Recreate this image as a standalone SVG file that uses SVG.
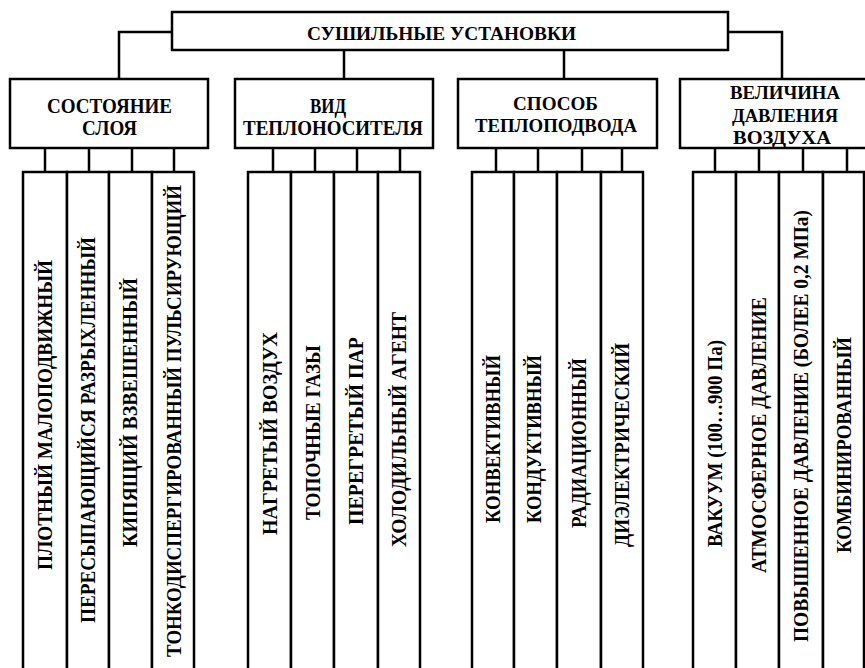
<svg xmlns="http://www.w3.org/2000/svg" width="865" height="668" viewBox="0 0 865 668">
<style>
.b{fill:#fff;stroke:#000;stroke-width:2.5}
.c{fill:none;stroke:#000;stroke-width:2.5}
text{font-family:"Liberation Serif","Times New Roman",serif;font-weight:bold;fill:#000;text-anchor:middle}
.t{font-size:19.5px}
.h{font-size:20px}
.h3{font-size:19.5px}
.h4{font-size:18.5px}
.v{font-size:22px}
</style>
<rect width="865" height="668" fill="#fff"/>
<g id="connectors">
<path class="c" d="M172,32H119V79M728,32H782V79M344,50V79M564,50V79"/>
<path class="c" d="M45,148V172M89,148V172M132,148V172M174,148V172"/>
<path class="c" d="M273,148V172M315,148V172M357,148V172M400,148V172"/>
<path class="c" d="M496,148V172M538,148V172M582,148V172M622,148V172"/>
<path class="c" d="M715,148V172M759,148V172M803,148V172M847,148V172"/>
</g>
<g id="root"><rect class="b" x="172" y="12" width="556" height="38"/><text class="t" x="441.5" y="40" textLength="269" lengthAdjust="spacingAndGlyphs">СУШИЛЬНЫЕ  УСТАНОВКИ</text></g>
<g id="cat1"><rect class="b" x="10" y="79" width="198" height="69"/><text class="h" x="109.5" y="113" textLength="125" lengthAdjust="spacingAndGlyphs">СОСТОЯНИЕ</text><text class="h" x="109.5" y="135" textLength="55" lengthAdjust="spacingAndGlyphs">СЛОЯ</text></g>
<g id="cat2"><rect class="b" x="235" y="79" width="198" height="69"/><text class="h" x="328" y="113" textLength="36" lengthAdjust="spacingAndGlyphs">ВИД</text><text class="h" x="333" y="135" textLength="180" lengthAdjust="spacingAndGlyphs">ТЕПЛОНОСИТЕЛЯ</text></g>
<g id="cat3"><rect class="b" x="458" y="79" width="199" height="69"/><text class="h3" x="555.5" y="110" textLength="85" lengthAdjust="spacingAndGlyphs">СПОСОБ</text><text class="h3" x="556" y="132" textLength="162" lengthAdjust="spacingAndGlyphs">ТЕПЛОПОДВОДА</text></g>
<g id="cat4"><rect class="b" x="680" y="79" width="200" height="69"/><text class="h4" x="785" y="99" textLength="110" lengthAdjust="spacingAndGlyphs">ВЕЛИЧИНА</text><text class="h4" x="785" y="122" textLength="106" lengthAdjust="spacingAndGlyphs">ДАВЛЕНИЯ</text><text class="h4" x="782" y="144" textLength="98" lengthAdjust="spacingAndGlyphs">ВОЗДУХА</text></g>
<g id="l1"><rect class="b" x="23" y="172" width="44" height="520"/><text class="v" transform="translate(52,415) rotate(-90)" textLength="310" lengthAdjust="spacingAndGlyphs">ПЛОТНЫЙ  МАЛОПОДВИЖНЫЙ</text></g>
<g id="l2"><rect class="b" x="67" y="172" width="42" height="520"/><text class="v" transform="translate(95,430) rotate(-90)" textLength="386" lengthAdjust="spacingAndGlyphs">ПЕРЕСЫПАЮЩИЙСЯ  РАЗРЫХЛЕННЫЙ</text></g>
<g id="l3"><rect class="b" x="109" y="172" width="43" height="520"/><text class="v" transform="translate(137,412.5) rotate(-90)" textLength="269" lengthAdjust="spacingAndGlyphs">КИПЯЩИЙ  ВЗВЕШЕННЫЙ</text></g>
<g id="l4"><rect class="b" x="152" y="172" width="42" height="520"/><text class="v" transform="translate(181,421) rotate(-90)" textLength="472" lengthAdjust="spacingAndGlyphs">ТОНКОДИСПЕРГИРОВАННЫЙ  ПУЛЬСИРУЮЩИЙ</text></g>
<g id="l5"><rect class="b" x="248" y="172" width="43" height="520"/><text class="v" transform="translate(277,433.5) rotate(-90)" textLength="203" lengthAdjust="spacingAndGlyphs">НАГРЕТЫЙ  ВОЗДУХ</text></g>
<g id="l6"><rect class="b" x="291" y="172" width="43" height="520"/><text class="v" transform="translate(320,432.5) rotate(-90)" textLength="175" lengthAdjust="spacingAndGlyphs">ТОПОЧНЫЕ  ГАЗЫ</text></g>
<g id="l7"><rect class="b" x="334" y="172" width="44" height="520"/><text class="v" transform="translate(363,431) rotate(-90)" textLength="188" lengthAdjust="spacingAndGlyphs">ПЕРЕГРЕТЫЙ  ПАР</text></g>
<g id="l8"><rect class="b" x="378" y="172" width="42" height="520"/><text class="v" transform="translate(406,429.5) rotate(-90)" textLength="235" lengthAdjust="spacingAndGlyphs">ХОЛОДИЛЬНЫЙ  АГЕНТ</text></g>
<g id="l9"><rect class="b" x="472" y="172" width="42" height="520"/><text class="v" transform="translate(500,439) rotate(-90)" textLength="168" lengthAdjust="spacingAndGlyphs">КОНВЕКТИВНЫЙ</text></g>
<g id="l10"><rect class="b" x="514" y="172" width="43" height="520"/><text class="v" transform="translate(541,439) rotate(-90)" textLength="168" lengthAdjust="spacingAndGlyphs">КОНДУКТИВНЫЙ</text></g>
<g id="l11"><rect class="b" x="557" y="172" width="44" height="520"/><text class="v" transform="translate(586,443) rotate(-90)" textLength="170" lengthAdjust="spacingAndGlyphs">РАДИАЦИОННЫЙ</text></g>
<g id="l12"><rect class="b" x="601" y="172" width="42" height="520"/><text class="v" transform="translate(629,445) rotate(-90)" textLength="204" lengthAdjust="spacingAndGlyphs">ДИЭЛЕКТРИЧЕСКИЙ</text></g>
<g id="l13"><rect class="b" x="693" y="172" width="43" height="520"/><text class="v" transform="translate(722,443.5) rotate(-90)" textLength="207" lengthAdjust="spacingAndGlyphs">ВАКУУМ (100…900 Па)</text></g>
<g id="l14"><rect class="b" x="736" y="172" width="43" height="520"/><text class="v" transform="translate(766,435) rotate(-90)" textLength="276" lengthAdjust="spacingAndGlyphs">АТМОСФЕРНОЕ  ДАВЛЕНИЕ</text></g>
<g id="l15"><rect class="b" x="779" y="172" width="44" height="520"/><text class="v" transform="translate(808,426) rotate(-90)" textLength="432" lengthAdjust="spacingAndGlyphs">ПОВЫШЕННОЕ  ДАВЛЕНИЕ (БОЛЕЕ 0,2 МПа)</text></g>
<g id="l16"><rect class="b" x="823" y="172" width="41" height="520"/><text class="v" transform="translate(851,445) rotate(-90)" textLength="216" lengthAdjust="spacingAndGlyphs">КОМБИНИРОВАННЫЙ</text></g>
</svg>
